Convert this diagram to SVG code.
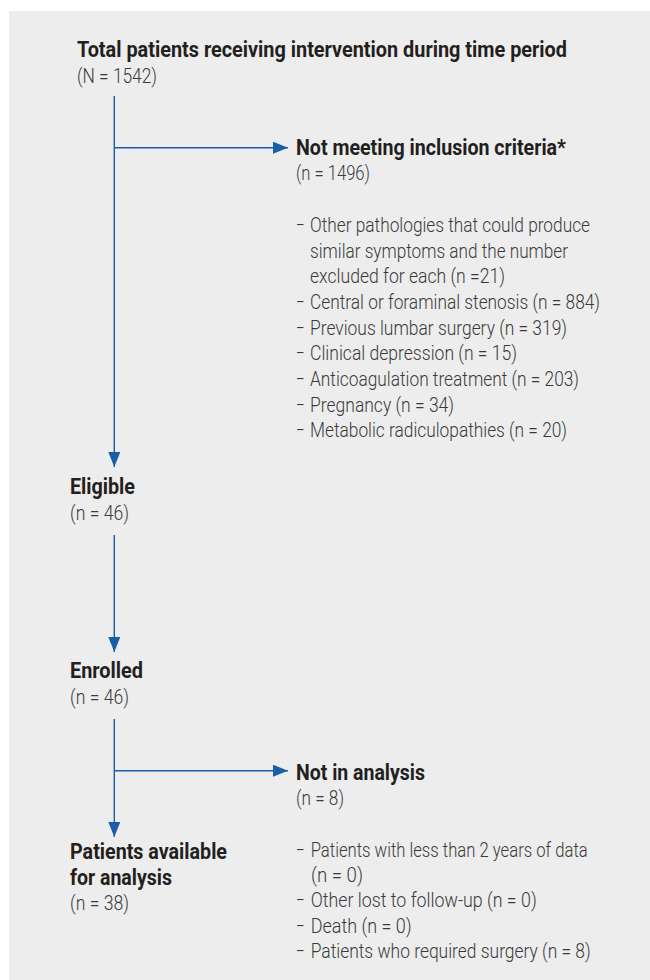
<svg xmlns="http://www.w3.org/2000/svg" width="650" height="980" viewBox="0 0 650 980">
<defs>
<style>
.h{font-family:Roboto,"Liberation Sans",sans-serif;font-weight:700;font-size:22.5px;fill:#231f20}
.t{font-family:Roboto,"Liberation Sans",sans-serif;font-weight:300;font-size:20.5px;fill:#3a3a3a}
.ln{stroke:#1a5ea8;stroke-width:1.4;fill:none}
</style>
<marker id="ah" viewBox="0 0 15 12" refX="15" refY="6" markerWidth="15" markerHeight="12" markerUnits="userSpaceOnUse" orient="auto">
<path d="M0,0 L15,6 L0,12 Z" fill="#1a5ea8"/>
</marker>
</defs>
<rect x="9" y="11" width="641" height="969" fill="#ededed"/>
<g id="connectors">
<path class="ln" d="M114.3,96 V467" marker-end="url(#ah)"/>
<path class="ln" d="M114.3,147.7 H288" marker-end="url(#ah)"/>
<path class="ln" d="M114.3,535 V652" marker-end="url(#ah)"/>
<path class="ln" d="M114.3,719 V837" marker-end="url(#ah)"/>
<path class="ln" d="M114.3,770.7 H288" marker-end="url(#ah)"/>
</g>
<g id="total">
<text class="h" x="77" y="57" textLength="490" lengthAdjust="spacingAndGlyphs">Total patients receiving intervention during time period</text>
<text class="t" x="77" y="83" textLength="80" lengthAdjust="spacingAndGlyphs">(N = 1542)</text>
</g>
<g id="excluded">
<text class="h" x="296" y="155" textLength="270" lengthAdjust="spacingAndGlyphs">Not meeting inclusion criteria*</text>
<text class="t" x="296" y="180" textLength="74" lengthAdjust="spacingAndGlyphs">(n = 1496)</text>
<text class="t" x="296" y="232" textLength="8.5" lengthAdjust="spacingAndGlyphs">–</text>
<text class="t" x="310" y="232" textLength="280" lengthAdjust="spacingAndGlyphs">Other pathologies that could produce</text>
<text class="t" x="310" y="257.5" textLength="258" lengthAdjust="spacingAndGlyphs">similar symptoms and the number</text>
<text class="t" x="310" y="283" textLength="195" lengthAdjust="spacingAndGlyphs">excluded for each (n =21)</text>
<text class="t" x="296" y="309" textLength="8.5" lengthAdjust="spacingAndGlyphs">–</text>
<text class="t" x="310" y="309" textLength="290" lengthAdjust="spacingAndGlyphs">Central or foraminal stenosis (n = 884)</text>
<text class="t" x="296" y="335" textLength="8.5" lengthAdjust="spacingAndGlyphs">–</text>
<text class="t" x="310" y="335" textLength="257" lengthAdjust="spacingAndGlyphs">Previous lumbar surgery (n = 319)</text>
<text class="t" x="296" y="360" textLength="8.5" lengthAdjust="spacingAndGlyphs">–</text>
<text class="t" x="310" y="360" textLength="207" lengthAdjust="spacingAndGlyphs">Clinical depression (n = 15)</text>
<text class="t" x="296" y="386" textLength="8.5" lengthAdjust="spacingAndGlyphs">–</text>
<text class="t" x="310" y="386" textLength="269" lengthAdjust="spacingAndGlyphs">Anticoagulation treatment (n = 203)</text>
<text class="t" x="296" y="412" textLength="8.5" lengthAdjust="spacingAndGlyphs">–</text>
<text class="t" x="310" y="412" textLength="144" lengthAdjust="spacingAndGlyphs">Pregnancy (n = 34)</text>
<text class="t" x="296" y="437" textLength="8.5" lengthAdjust="spacingAndGlyphs">–</text>
<text class="t" x="310" y="437" textLength="257" lengthAdjust="spacingAndGlyphs">Metabolic radiculopathies (n = 20)</text>
</g>
<g id="eligible">
<text class="h" x="70" y="494" textLength="65" lengthAdjust="spacingAndGlyphs">Eligible</text>
<text class="t" x="70" y="520" textLength="59" lengthAdjust="spacingAndGlyphs">(n = 46)</text>
</g>
<g id="enrolled">
<text class="h" x="70" y="678" textLength="73" lengthAdjust="spacingAndGlyphs">Enrolled</text>
<text class="t" x="70" y="704" textLength="59" lengthAdjust="spacingAndGlyphs">(n = 46)</text>
</g>
<g id="notinanalysis">
<text class="h" x="296" y="780" textLength="129" lengthAdjust="spacingAndGlyphs">Not in analysis</text>
<text class="t" x="296" y="805" textLength="48" lengthAdjust="spacingAndGlyphs">(n = 8)</text>
<text class="t" x="296" y="857" textLength="8.5" lengthAdjust="spacingAndGlyphs">–</text>
<text class="t" x="310.7" y="857" textLength="277" lengthAdjust="spacingAndGlyphs">Patients with less than 2 years of data</text>
<text class="t" x="311" y="882" textLength="52" lengthAdjust="spacingAndGlyphs">(n = 0)</text>
<text class="t" x="296" y="907" textLength="8.5" lengthAdjust="spacingAndGlyphs">–</text>
<text class="t" x="310.7" y="907" textLength="226" lengthAdjust="spacingAndGlyphs">Other lost to follow-up (n = 0)</text>
<text class="t" x="296" y="933" textLength="8.5" lengthAdjust="spacingAndGlyphs">–</text>
<text class="t" x="310.7" y="933" textLength="101" lengthAdjust="spacingAndGlyphs">Death (n = 0)</text>
<text class="t" x="296" y="958" textLength="8.5" lengthAdjust="spacingAndGlyphs">–</text>
<text class="t" x="310.7" y="958" textLength="280" lengthAdjust="spacingAndGlyphs">Patients who required surgery (n = 8)</text>
</g>
<g id="available">
<text class="h" x="70" y="859" textLength="157" lengthAdjust="spacingAndGlyphs">Patients available</text>
<text class="h" x="70" y="885" textLength="102" lengthAdjust="spacingAndGlyphs">for analysis</text>
<text class="t" x="70" y="910" textLength="59" lengthAdjust="spacingAndGlyphs">(n = 38)</text>
</g>
</svg>
